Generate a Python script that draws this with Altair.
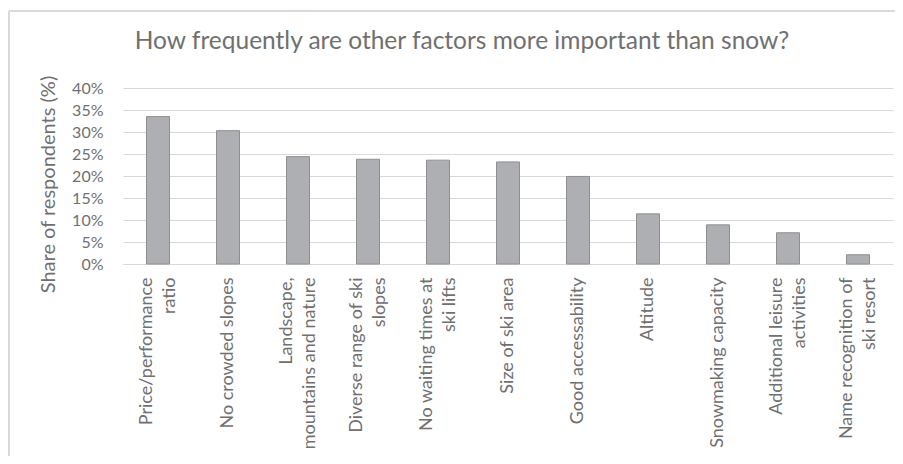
import altair as alt
import pandas as pd

categories = [
    "Price/performance|ratio",
    "No crowded slopes",
    "Landscape,|mountains and nature",
    "Diverse range of ski|slopes",
    "No waiting times at|ski lifts",
    "Size of ski area",
    "Good accessability",
    "Altitude",
    "Snowmaking capacity",
    "Additional leisure|activities",
    "Name recognition of|ski resort",
]
shares = [0.335, 0.303, 0.244, 0.238, 0.236, 0.232, 0.199, 0.114, 0.089, 0.071, 0.021]
y_ticks = [0, 0.05, 0.10, 0.15, 0.20, 0.25, 0.30, 0.35, 0.40]

df = pd.DataFrame({"factor": categories, "share": shares})

FONT = "Lato"
TEXT = "#707070"

bars = alt.Chart(df).mark_bar(
    color="#aeafb3", stroke="#8e8e90", strokeWidth=1, width=23
).encode(
    x=alt.X(
        "factor:N",
        sort=None,
        title=None,
        scale=alt.Scale(paddingInner=0, paddingOuter=0),
        axis=alt.Axis(
            labelAngle=-90,
            labelAlign="right",
            labelBaseline="middle",
            labelExpr="split(datum.label, '|')",
            labelLineHeight=23,
            labelFontSize=18,
            labelFont=FONT,
            labelColor=TEXT,
            labelPadding=13,
            labelLimit=300,
            labelOffset={"condition": {"test": "indexof(datum.label, '|') >= 0", "value": -11}, "value": 0},
            ticks=False,
            domainColor="#d9d9d9",
            domainWidth=1,
            grid=False,
        ),
    ),
    y=alt.Y(
        "share:Q",
        scale=alt.Scale(domain=[0, 0.40]),
        axis=alt.Axis(
            values=y_ticks,
            format=".0%",
            title="Share of respondents (%)",
            titleFont=FONT,
            titleFontSize=20,
            titleFontWeight="normal",
            titleColor=TEXT,
            titleAngle=-90,
            titleAlign="center",
            titleBaseline="middle",
            titleX=-75,
            titleY=96,
            labelFontSize=16,
            labelFont=FONT,
            labelColor=TEXT,
            labelPadding=20,
            ticks=False,
            domain=False,
            gridColor="#d9d9d9",
            gridWidth=1,
        ),
    ),
)

frame = alt.Chart(df).mark_rect(
    fill=None, stroke="#d9d9d9", strokeWidth=1, clip=False
).encode(
    x=alt.value(-114), x2=alt.value(800), y=alt.value(-77), y2=alt.value(500)
)

chart = alt.layer(frame, bars).properties(
    width=770,
    height=176,
    autosize=alt.AutoSizeParams(type="none"),
    padding={"left": 115, "top": 80, "right": 2, "bottom": 192},
    title=alt.TitleParams(
        "How frequently are other factors more important than snow?",
        font=FONT,
        fontSize=24.5,
        fontWeight="normal",
        color=TEXT,
        anchor="middle",
        dx=-46,
        offset=-63,
        baseline="alphabetic",
    ),
).configure_view(stroke=None)

chart.save("out.html", embed_options={"renderer": "svg", "actions": False})
